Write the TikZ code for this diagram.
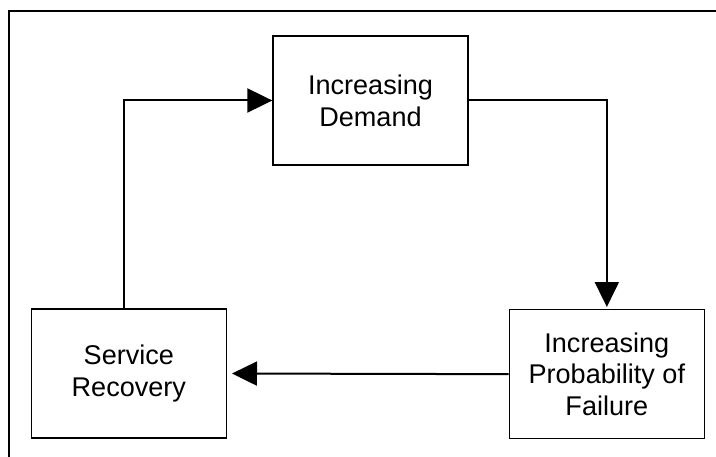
\documentclass[tikz,border=0pt]{standalone}
\usepackage{fontspec}
\setmainfont{Liberation Sans}
\usetikzlibrary{positioning,arrows.meta}

\begin{document}
\begin{tikzpicture}[x=0.75pt,y=-0.75pt]

              % Definitions
              \tikzstyle{Stage} = [rectangle, minimum width=146.25pt, minimum height=96.75pt, text centered, align=center, draw=black, line width=1pt, font=\fontsize{20.3pt}{23.8pt}\selectfont]
              \tikzstyle{arrow} = [line width=1.5pt, -{Triangle[length=18.75pt, width=18pt]}]

              \useasboundingbox (0,0) rectangle (716,456);
              \draw [line width=1pt] (9,11) rectangle (740,480);

              \node (Demand) [Stage] at (370.5,100.5) {Increasing\\Demand};
              \node (Recovery) [Stage, below left=107pt and 34pt of Demand] {Service\\Recovery};
              \node (Failure) [Stage, below right=107.5pt and 30pt of Demand] {Increasing\\Probability of\\Failure};

              \draw [arrow] ([xshift=-3.75pt]Recovery.north) |- (Demand.west);
              \draw [arrow, shorten >=1.5pt] (Demand.east) -| (Failure.north);
              \draw [arrow, shorten >=3.75pt] (Failure.west) -- (Recovery.east);

            \end{tikzpicture}
\end{document}
